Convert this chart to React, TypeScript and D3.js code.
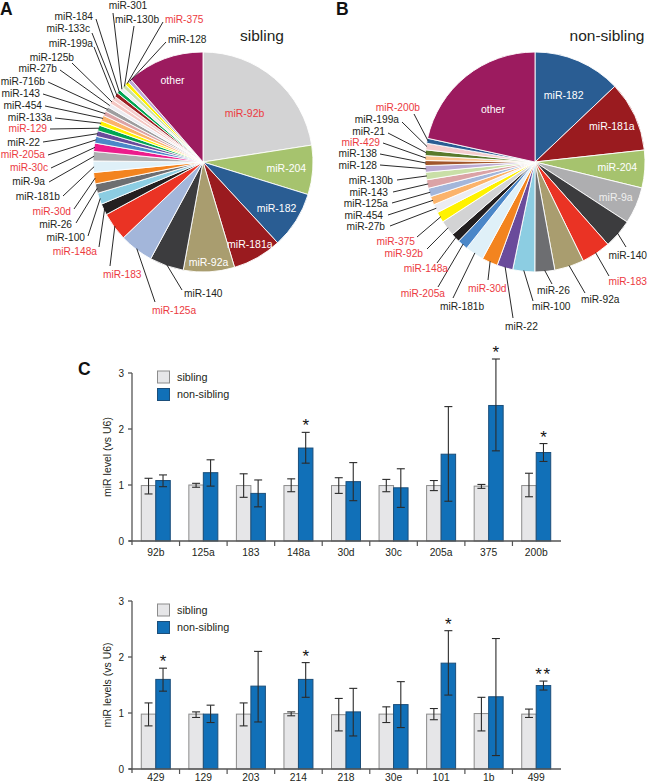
import React from 'react';
import * as d3 from 'd3';

// ---------- DATA ----------
const pieANames = ['miR-92b','miR-204','miR-182','miR-181a','miR-92a','miR-140','miR-125a','miR-183','miR-148a','miR-100','miR-26','miR-30d','miR-181b','miR-9a','miR-30c','miR-205a','miR-22','miR-129','miR-133a','miR-454','miR-143','miR-716b','miR-27b','miR-125b','miR-199a','miR-133c','miR-184','miR-301','miR-130b','miR-375','miR-128','other'];
const pieAValues = [81,26,30,26,27,18,18,15,6,6,5,6,6,5,4.4,3.6,3,3,2.5,3,2.5,2.5,2.2,2.2,2.2,2.2,2,2,2,2,2,41];
const pieAHighlight = ['miR-92b','miR-183','miR-125a','miR-148a','miR-30d','miR-30c','miR-205a','miR-129','miR-375'];

const pieBNames = ['miR-182','miR-181a','miR-204','miR-9a','miR-140','miR-183','miR-92a','miR-26','miR-100','miR-22','miR-30d','miR-181b','miR-205a','miR-148a','miR-92b','miR-375','miR-27b','miR-454','miR-125a','miR-143','miR-130b','miR-128','miR-138','miR-429','miR-21','miR-199a','miR-200b','other'];
const pieBValues = [46.5,37.2,19.9,19.4,15.4,15.5,15.6,10.5,11.6,8.4,8.4,9.9,5.6,4.7,8.3,5.6,4.5,4.5,4.5,4.5,4,3.5,2.6,2.6,3,3.5,2.6,77.5];
const pieBHighlight = ['miR-183','miR-30d','miR-205a','miR-148a','miR-92b','miR-375','miR-429','miR-200b'];

const c1Cats = ['92b','125a','183','148a','30d','30c','205a','375','200b'];
const c1Sib = [0.99,1.0,0.99,0.99,0.99,0.99,0.99,0.98,0.99];
const c1SibLo = [0.84,0.96,0.78,0.88,0.85,0.88,0.90,0.94,0.79];
const c1SibHi = [1.12,1.03,1.20,1.11,1.13,1.10,1.08,1.01,1.21];
const c1Non = [1.08,1.22,0.85,1.66,1.06,0.95,1.55,2.42,1.58];
const c1NonLo = [0.97,0.98,0.61,1.39,0.72,0.60,0.71,1.61,1.42];
const c1NonHi = [1.18,1.45,1.09,1.94,1.40,1.29,2.40,3.25,1.74];
const c1Sig = ['','','','*','','','','*','*'];

const c2Cats = ['429','129','203','214','218','30e','101','1b','499'];
const c2Sib = [0.98,0.98,0.98,0.99,0.97,0.98,0.98,0.99,0.98];
const c2SibLo = [0.77,0.92,0.77,0.95,0.68,0.83,0.88,0.68,0.92];
const c2SibHi = [1.18,1.02,1.18,1.02,1.26,1.11,1.08,1.28,1.07];
const c2Non = [1.60,0.98,1.48,1.60,1.02,1.15,1.89,1.29,1.49];
const c2NonLo = [1.39,0.83,0.84,1.28,0.59,0.74,1.32,0.24,1.41];
const c2NonHi = [1.80,1.14,2.10,1.90,1.44,1.56,2.47,2.33,1.57];
const c2Sig = ['*','','','*','','','*','','**'];

const yTicks = [0,1,2,3];

// ---------- STYLES / LAYOUT ----------
const FONT = 'Liberation Sans, Arial, Helvetica, sans-serif';
const RED = '#ec3a3f';
const colors: Record<string,string> = {
  'miR-92b':'#d3d3d4','miR-204':'#a6c36e','miR-182':'#2a5d93','miR-181a':'#9a1b1f','miR-92a':'#a99d6f',
  'miR-140':'#3c3c3e','miR-125a':'#a3b6da','miR-183':'#ea3324','miR-148a':'#231f20','miR-100':'#8ccde2',
  'miR-26':'#6d6e71','miR-30d':'#f3841f','miR-181b':'#dff0f8','miR-9a':'#aeaeb0','miR-30c':'#ec1c8c',
  'miR-205a':'#4b87c8','miR-22':'#6a4b9b','miR-129':'#00a651','miR-133a':'#fff200','miR-454':'#fbb36b',
  'miR-143':'#dba3a6','miR-716b':'#9d9d9f','miR-27b':'#ececf2','miR-125b':'#f4c7c3','miR-199a':'#f5cccc',
  'miR-133c':'#9e1f23','miR-184':'#00a651','miR-301':'#f0f0f0','miR-130b':'#c9dfa7','miR-375':'#fff200',
  'miR-128':'#bcaad3','miR-138':'#a0552a','miR-429':'#fbc692','miR-21':'#5a7a2c','miR-200b':'#2a5d93',
  'other':'#9c1b5f'
};

type Lab = [number, number, string, number, number];
const layoutA: Record<string, Lab> = {
  'miR-140': [184, 297, 'start', 182, 290],
  'miR-125a': [152, 314, 'start', 155, 302],
  'miR-183': [103, 278, 'start', 110, 266],
  'miR-148a': [97, 255, 'end', 99, 247],
  'miR-100': [85, 241, 'end', 88, 236],
  'miR-26': [72, 228, 'end', 76, 223],
  'miR-30d': [71, 215, 'end', 74, 209],
  'miR-181b': [60, 200, 'end', 63, 196],
  'miR-9a': [45, 185, 'end', 49, 182],
  'miR-30c': [48, 171, 'end', 51, 168],
  'miR-205a': [45, 158, 'end', 48, 155],
  'miR-22': [40, 146, 'end', 43, 142],
  'miR-129': [47, 132, 'end', 50, 129],
  'miR-133a': [52, 121, 'end', 55, 118],
  'miR-454': [42, 109, 'end', 45, 106],
  'miR-143': [40, 97, 'end', 43, 94],
  'miR-716b': [45, 85, 'end', 48, 82],
  'miR-27b': [57, 72, 'end', 60, 70],
  'miR-125b': [74, 61, 'end', 72, 63],
  'miR-199a': [93, 47, 'end', 94, 47],
  'miR-133c': [90, 32, 'end', 92, 33],
  'miR-184': [93, 20, 'end', 96, 19],
  'miR-301': [128, 9, 'middle', 113, 13],
  'miR-130b': [137, 23, 'middle', 134, 26],
  'miR-375': [165, 23, 'start', 163, 22],
  'miR-128': [168, 43, 'start', 166, 42],
};
const layoutB: Record<string, Lab> = {
  'miR-140': [647, 259, 'end', 626, 247],
  'miR-183': [647, 285, 'end', 609, 276],
  'miR-92a': [581, 303, 'start', 585, 293],
  'miR-26': [537, 294, 'start', 552, 284],
  'miR-100': [532, 310, 'start', 533, 301],
  'miR-22': [505, 330, 'start', 513, 318],
  'miR-30d': [468, 292, 'start', 488, 280],
  'miR-181b': [440, 310, 'start', 453, 298],
  'miR-205a': [445, 297, 'end', 438, 287],
  'miR-148a': [448, 272, 'end', 437, 263],
  'miR-92b': [423, 257, 'end', 427, 249],
  'miR-375': [415, 245, 'end', 417, 237],
  'miR-27b': [385, 230, 'end', 390, 226],
  'miR-454': [383, 219, 'end', 388, 215],
  'miR-125a': [388, 207, 'end', 392, 203],
  'miR-143': [388, 196, 'end', 393, 192],
  'miR-130b': [393, 184, 'end', 397, 180],
  'miR-128': [377, 169, 'end', 380, 165],
  'miR-138': [377, 157, 'end', 380, 154],
  'miR-429': [380, 146, 'end', 383, 143],
  'miR-21': [385, 135, 'end', 388, 133],
  'miR-199a': [399, 123, 'end', 402, 122],
  'miR-200b': [420, 111, 'end', 414, 114],
};
const insideA: Record<string, number> = {'other':0.79,'miR-92b':0.58,'miR-204':0.76,'miR-182':0.79,'miR-181a':0.86,'miR-92a':0.91};
const insideB: Record<string, number> = {'other':0.61,'miR-182':0.66,'miR-181a':0.77,'miR-204':0.75,'miR-9a':0.8};

function Pie(props: {cx:number; cy:number; r:number; names:string[]; values:number[]; highlight:string[]; layout:Record<string,Lab>; inside:Record<string,number>; title:string; titleX:number; insideColor?: Record<string,string>}) {
  const {cx, cy, r, names, values, highlight, layout, inside, title, titleX} = props;
  const arcs = d3.pie<number>().sort(null).value(d => d)(values);
  const arc = d3.arc<d3.PieArcDatum<number>>().innerRadius(0).outerRadius(r);
  return (
    <g>
      <g transform={`translate(${cx},${cy})`}>
        {arcs.map((a, i) => (
          <path key={i} d={arc(a) || ''} fill={colors[names[i]]} stroke="#fff" strokeWidth={0.9} strokeLinejoin="round" />
        ))}
      </g>
      {arcs.map((a, i) => {
        const name = names[i];
        const mid = (a.startAngle + a.endAngle) / 2;
        if (inside[name] !== undefined) {
          const rr = r * inside[name];
          const x = cx + rr * Math.sin(mid), y = cy - rr * Math.cos(mid);
          const col = highlight.includes(name) ? RED : (props.insideColor && props.insideColor[name]) || '#ffffff';
          return <text key={'t'+i} x={x} y={y} dy="0.35em" textAnchor="middle" fontSize={10.5} fill={col} fontFamily={FONT}>{name}</text>;
        }
        const L = layout[name];
        if (!L) return null;
        const ex = cx + (r - 1) * Math.sin(mid), ey = cy - (r - 1) * Math.cos(mid);
        return (
          <g key={'l'+i}>
            <line x1={L[3]} y1={L[4]} x2={ex} y2={ey} stroke="#111" strokeWidth={0.9} />
            <text x={L[0]} y={L[1]} textAnchor={L[2] as any} fontSize={10.2} fill={highlight.includes(name) ? RED : '#231f20'} fontFamily={FONT}>{name}</text>
          </g>
        );
      })}
      <text x={titleX} y={41} textAnchor="middle" fontSize={15.5} fill="#231f20" fontFamily={FONT}>{title}</text>
    </g>
  );
}

function BarChart(props: {cats:string[]; sib:number[]; sibLo:number[]; sibHi:number[]; non:number[]; nonLo:number[]; nonHi:number[]; sig:string[]; y0:number; yTitle:string; legendTop:number; labelOffset:number}) {
  const {cats, sib, sibLo, sibHi, non, nonLo, nonHi, sig, y0, yTitle, legendTop, labelOffset} = props;
  const x = d3.scaleBand<string>().domain(cats).range([132, 560]);
  const y = d3.scaleLinear().domain([0, 3]).range([y0, y0 - 168]);
  const bw = 14.5;
  const cap = 4;
  const err = (cxp: number, lo: number, hi: number, k: string) => (
    <g key={k} stroke="#2b2b2b" strokeWidth={1.1}>
      <line x1={cxp} x2={cxp} y1={y(lo)} y2={y(hi)} />
      <line x1={cxp - cap} x2={cxp + cap} y1={y(lo)} y2={y(lo)} />
      <line x1={cxp - cap} x2={cxp + cap} y1={y(hi)} y2={y(hi)} />
    </g>
  );
  return (
    <g fontFamily={FONT}>
      {cats.map((c, i) => {
        const cxp = (x(c) as number) + x.bandwidth() / 2;
        return (
          <g key={c}>
            <rect x={cxp - bw} y={y(sib[i])} width={bw} height={y0 - y(sib[i])} fill="#e6e6e8" stroke="#8c8c8c" strokeWidth={1} />
            <rect x={cxp} y={y(non[i])} width={bw} height={y0 - y(non[i])} fill="#1170b8" stroke="#1b4e7a" strokeWidth={1} />
            {err(cxp - bw / 2, sibLo[i], sibHi[i], 'es' + i)}
            {err(cxp + bw / 2, nonLo[i], nonHi[i], 'en' + i)}
            {sig[i] ? <text x={cxp + bw / 2} y={y(nonHi[i]) - 1} textAnchor="middle" fontSize={17} letterSpacing={sig[i].length > 1 ? 1.5 : 0} fill="#111">{sig[i]}</text> : null}
            <text x={cxp} y={y0 + labelOffset} textAnchor="middle" fontSize={10.3} fill="#231f20">{c}</text>
          </g>
        );
      })}
      {/* y axis */}
      <line x1={132} x2={132} y1={y(3)} y2={y0 + 4} stroke="#555" strokeWidth={1.3} />
      {yTicks.map(t => (
        <g key={t}>
          <line x1={128} x2={132} y1={y(t)} y2={y(t)} stroke="#555" strokeWidth={1.3} />
          <text x={124} y={y(t)} dy="0.35em" textAnchor="end" fontSize={10} fill="#231f20">{t}</text>
        </g>
      ))}
      {/* x axis */}
      <line x1={129} x2={561} y1={y0} y2={y0} stroke="#555" strokeWidth={1.3} />
      {cats.map((c, i) => i === 0 ? null : (
        <line key={'xt' + c} x1={x(c) as number} x2={x(c) as number} y1={y0} y2={y0 + 5} stroke="#555" strokeWidth={1.2} />
      ))}
      <text transform={`translate(107,${y(1.5)}) rotate(-90)`} textAnchor="middle" dy="0.35em" fontSize={10.5} fill="#231f20">{yTitle}</text>
      {/* legend */}
      <rect x={157.5} y={legendTop} width={12} height={12} fill="#e6e6e8" stroke="#8c8c8c" strokeWidth={1} />
      <rect x={157.5} y={legendTop + 17.5} width={12} height={12} fill="#1170b8" stroke="#1b4e7a" strokeWidth={1} />
      <text x={177} y={legendTop + 6} dy="0.35em" fontSize={10.8} fill="#231f20">sibling</text>
      <text x={177} y={legendTop + 23.5} dy="0.35em" fontSize={10.8} fill="#231f20">non-sibling</text>
    </g>
  );
}

export default function App() {
  return (
    <svg width={649} height={784} viewBox="0 0 649 784" style={{position: 'absolute', left: 0, top: 0, background: '#fff'}}>
      <rect x={0} y={0} width={649} height={784} fill="#fff" />
      <text x={0} y={15} fontSize={17.5} fontWeight="bold" fontFamily={FONT} fill="#111">A</text>
      <text x={336} y={15} fontSize={17.5} fontWeight="bold" fontFamily={FONT} fill="#111">B</text>
      <text x={78} y={375} fontSize={17.5} fontWeight="bold" fontFamily={FONT} fill="#111">C</text>
      <Pie cx={203} cy={162} r={110} names={pieANames} values={pieAValues} highlight={pieAHighlight} layout={layoutA} inside={insideA} title="sibling" titleX={262} />
      <Pie cx={535} cy={162} r={110} names={pieBNames} values={pieBValues} highlight={pieBHighlight} layout={layoutB} inside={insideB} title="non-sibling" titleX={607} insideColor={{'miR-9a': '#eeeeee'}} />
      <BarChart cats={c1Cats} sib={c1Sib} sibLo={c1SibLo} sibHi={c1SibHi} non={c1Non} nonLo={c1NonLo} nonHi={c1NonHi} sig={c1Sig} y0={541} yTitle="miR level (vs U6)" legendTop={371} labelOffset={14.5} />
      <BarChart cats={c2Cats} sib={c2Sib} sibLo={c2SibLo} sibHi={c2SibHi} non={c2Non} nonLo={c2NonLo} nonHi={c2NonHi} sig={c2Sig} y0={769} yTitle="miR levels (vs U6)" legendTop={604} labelOffset={12} />
    </svg>
  );
}
